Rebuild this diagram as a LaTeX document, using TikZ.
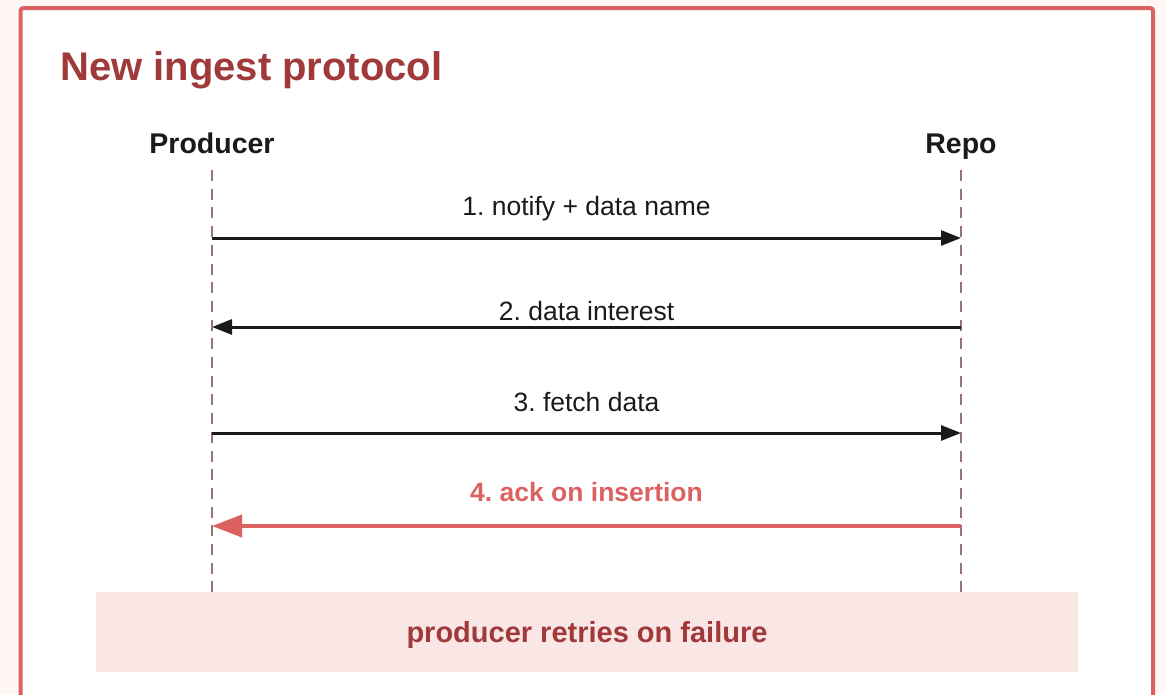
\documentclass[tikz,border=0pt]{standalone}
\usepackage{fontspec}
\setmainfont{Liberation Sans}
\usetikzlibrary{arrows.meta}
\frenchspacing
\definecolor{pagebg}{HTML}{FFF7F4}
\definecolor{framered}{HTML}{DA6362}
\definecolor{darkred}{HTML}{A0393A}
\definecolor{ackred}{HTML}{DC6262}
\definecolor{lifeclr}{HTML}{967577}
\definecolor{noteclr}{HTML}{FAE6E4}
\definecolor{msgclr}{HTML}{1A1A1A}
\tikzset{
  actor/.style={font=\fontsize{28.5}{32}\selectfont\bfseries, text=msgclr, anchor=base, inner sep=0pt},
  lifeline/.style={draw=lifeclr, line width=2.6pt, dash pattern=on 11pt off 7.7pt},
  msg/.style={draw=msgclr, line width=3pt, -{Triangle[length=20pt,width=15pt]}},
  ackmsg/.style={draw=ackred, line width=4pt, -{Triangle[length=30pt,width=22pt]}},
  msglabel/.style={font=\fontsize{26.5}{30}\selectfont, text=msgclr, anchor=base, inner sep=0pt},
  acklabel/.style={font=\fontsize{26.5}{30}\selectfont\bfseries, text=ackred, anchor=base, inner sep=0pt},
  notebox/.style={fill=noteclr, rounded corners=2pt, minimum width=982pt, minimum height=80pt, inner sep=0pt,
    font=\fontsize{29}{32}\selectfont\bfseries, text=darkred},
}
\begin{document}
\begin{tikzpicture}[x=1pt,y=-1pt]
\useasboundingbox (0,0) rectangle (1165,694);
\fill[pagebg] (0,0) rectangle (1165,694);
\draw[framered, line width=4pt, fill=white, rounded corners=3pt] (20.5,8) -- (1153,8) -- (1153,720) -- (20.5,720) -- cycle;
\node[font=\fontsize{40}{44}\selectfont\bfseries, text=darkred, anchor=base west, inner sep=0pt] (title) at (60,80) {New ingest protocol};
\node[actor] (producer) at (212,153) {Producer};
\node[actor] (repo) at (961,153) {Repo};
\coordinate (ptop) at (212,170);
\coordinate (rtop) at (961,170);
\coordinate (pbot) at (212,592);
\coordinate (rbot) at (961,592);
\draw[lifeline] (ptop) -- (pbot);
\draw[lifeline] (rtop) -- (rbot);
\coordinate (p1) at (212,238); \coordinate (r1) at (961,238);
\coordinate (p2) at (212,327); \coordinate (r2) at (961,327);
\coordinate (p3) at (212,433); \coordinate (r3) at (961,433);
\coordinate (p4) at (212,526); \coordinate (r4) at (961,526);
\draw[msg] (p1) -- (r1);
\draw[msg] (r2) -- (p2);
\draw[msg] (p3) -- (r3);
\draw[ackmsg] (r4) -- (p4);
\node[msglabel] (l1) at (586.5,215) {1. notify + data name};
\node[msglabel] (l2) at (586.5,320) {2. data interest};
\node[msglabel] (l3) at (586.5,411) {3. fetch data};
\node[acklabel] (l4) at (586.5,501) {4. ack on insertion};
\node[notebox] (note) at (587,632) {};
\node[font=\fontsize{29}{32}\selectfont\bfseries, text=darkred, anchor=base, inner sep=0pt] (notetext) at (587,642.5) {producer retries on failure};
\end{tikzpicture}
\end{document}
